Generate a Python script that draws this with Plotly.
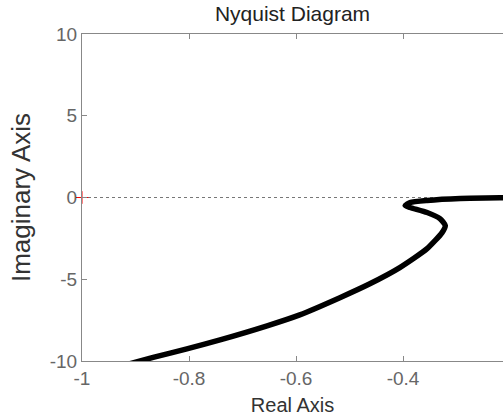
import plotly.graph_objects as go

# Nyquist curve
real_part = [-0.93, -0.910, -0.867, -0.804, -0.742, -0.654, -0.593, -0.518, -0.462, -0.406, -0.355,
             -0.327, -0.321, -0.331, -0.355, -0.387, -0.396, -0.387, -0.355, -0.293, -0.219, -0.15]
imag_part = [-10.32, -10.16, -9.78, -9.26, -8.71, -7.85, -7.18, -6.13, -5.28, -4.29, -3.13,
             -2.15, -1.72, -1.29, -0.92, -0.61, -0.49, -0.31, -0.18, -0.06, -0.02, -0.01]

x_ticks = [-1, -0.8, -0.6, -0.4]
x_tick_labels = ["-1", "-0.8", "-0.6", "-0.4"]
y_ticks = [-10, -5, 0, 5, 10]
y_tick_labels = ["-10", "-5", "0", "5", "10"]

x_range = [-1, -0.2131]
y_range = [-10, 10]

fig = go.Figure()

# dashed zero line
fig.add_trace(go.Scatter(x=[x_range[0], x_range[1]], y=[0, 0], mode="lines",
                         line=dict(color="#777777", width=1, dash="3px,3px"),
                         hoverinfo="skip", showlegend=False))

fig.add_trace(go.Scatter(x=real_part, y=imag_part, mode="lines",
                         line=dict(color="black", width=5.5, shape="spline", smoothing=0.6),
                         showlegend=False))

# critical point marker
fig.add_trace(go.Scatter(x=[-1], y=[0], mode="markers",
                         marker=dict(symbol="cross-thin", size=9, line=dict(color="red", width=1)),
                         cliponaxis=False, showlegend=False))

axis_font = dict(family="Liberation Sans, Arial, sans-serif", size=19, color="#666666")

fig.update_layout(
    width=503, height=419,
    margin=dict(l=82, r=0, t=34, b=58),
    plot_bgcolor="white", paper_bgcolor="white",
    title=dict(text="Nyquist Diagram", x=0.5, xref="paper", y=1 - 14 / 419, yref="container",
               yanchor="middle", xanchor="center",
               font=dict(family="Liberation Sans, Arial, sans-serif", size=21, color="#222222")),
    xaxis=dict(range=x_range, tickvals=x_ticks, ticktext=x_tick_labels,
               showgrid=False, zeroline=False, showline=True, linecolor="#888888", linewidth=1,
               mirror="ticks", ticks="inside", ticklen=5, tickcolor="#888888",
               tickfont=axis_font,
               title=dict(text="Real Axis", standoff=10,
                          font=dict(family="Liberation Sans, Arial, sans-serif", size=20, color="#333333"))),
    yaxis=dict(range=y_range, tickvals=y_ticks, ticktext=y_tick_labels,
               showgrid=False, zeroline=False, showline=True, linecolor="#888888", linewidth=1,
               ticks="inside", ticklen=5, tickcolor="#888888",
               tickfont=axis_font,
               title=dict(text="Imaginary Axis", standoff=11,
                          font=dict(family="Liberation Sans, Arial, sans-serif", size=26, color="#333333"))),
)

fig.write_html("out.html")
